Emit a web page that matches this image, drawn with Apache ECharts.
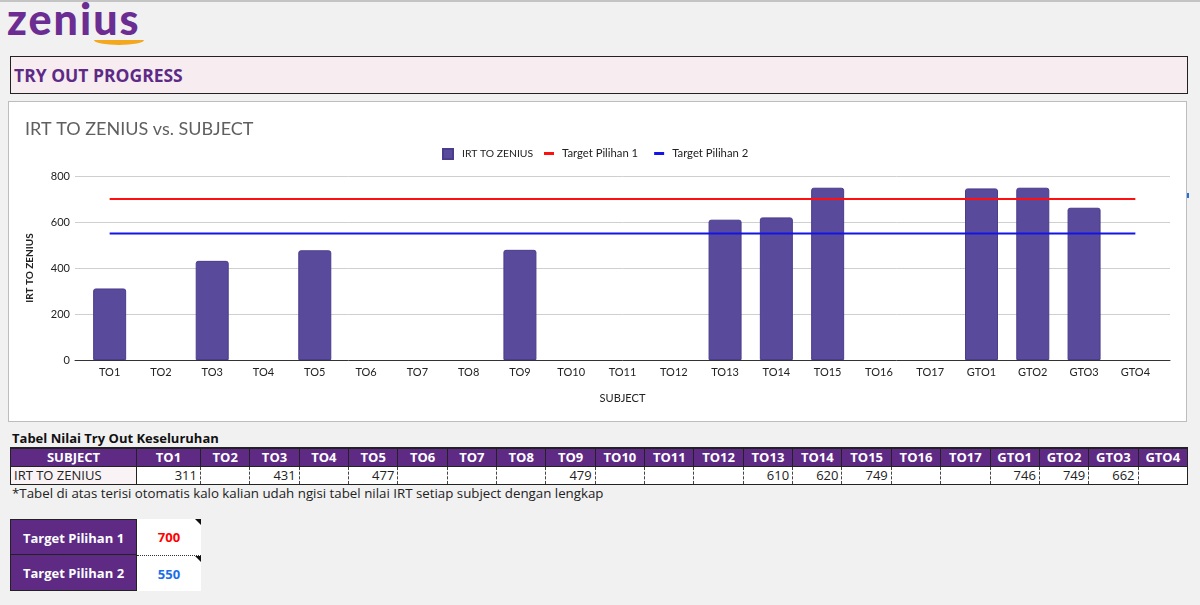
<!DOCTYPE html>
<html>
<head>
<meta charset="utf-8">
<script src="https://cdn.jsdelivr.net/npm/echarts@6/dist/echarts.min.js"></script>
<style>
  html, body { margin: 0; padding: 0; }
  body {
    width: 1200px; height: 605px; position: relative; overflow: hidden;
    background: #f1f1f1; font-family: "Open Sans", sans-serif;
    border-top: 2px solid #c4c4c4; box-sizing: border-box;
  }
  .logo {
    position: absolute; left: 7px; top: -9px;
    font-family: Lato, sans-serif; font-weight: 900; font-size: 43px;
    color: #6b2d92; letter-spacing: 2px;
  }
  .swoosh {
    position: absolute; left: 94px; top: 38px; width: 50px; height: 5px;
    background: #f4a81d; border-radius: 0 0 50% 50% / 0 0 100% 100%;
  }
  .header {
    position: absolute; left: 10px; top: 54px; width: 1173px; height: 36px;
    border: 1px solid #222; background: #f7edf1;
    font-weight: 700; font-size: 17.5px; color: #5d2a86;
    line-height: 36px; padding-left: 3px;
  }
  .chartbox {
    position: absolute; left: 8px; top: 99px; width: 1177px; height: 319px;
    border: 1px solid #bdbdbd; background: #fff;
  }
  #chart { width: 1177px; height: 319px; }
  .mark { position: absolute; left: 1187px; top: 191px; width: 2px; height: 5px; background: #2a6fd6; }
  .ttitle { position: absolute; left: 12px; top: 427px; font-weight: 700; font-size: 13px; color: #111; }
  table.scores {
    position: absolute; left: 10px; top: 445px; border-collapse: collapse;
    font-size: 13px; table-layout: fixed; width: 1178px;
  }
  table.scores td { height: 18px; padding: 0 3px; white-space: nowrap; line-height: 16px; box-sizing: border-box; overflow: hidden; }
  table.scores tr.head td {
    background: #5e2a84; color: #fff; font-weight: 700; text-align: center;
    border: 1px solid #222; border-top: 2px solid #222;
  }
  table.scores tr.vals td {
    background: #fff; color: #222; text-align: right;
    border-left: 1px dashed #444; border-bottom: 1px solid #222;
  }
  table.scores tr.vals td.lbl { text-align: left; background: #faf3f6; border-left: 1px solid #222; border-right: 1px solid #222; }
  table.scores tr.vals td:last-child { border-right: 1px solid #222; }
  .note { position: absolute; left: 12px; top: 482px; font-size: 13.3px; color: #222; }
  .targets { position: absolute; left: 10px; top: 517px; }
  .trow { display: flex; height: 36px; }
  .tlbl {
    width: 125px; background: #5e2a84; color: #fff; font-weight: 700; font-size: 13px;
    text-align: center; line-height: 36px; border-left: 1px solid #222; border-bottom: 1px solid #222; border-right: 1px solid #222;
  }
  .tval {
    width: 64px; background: #fff; font-weight: 700; font-size: 13px;
    text-align: center; line-height: 36px; position: relative;
  }
  .tval::after {
    content: ""; position: absolute; right: 0; top: 0;
    border-left: 6px solid transparent; border-top: 6px solid #111;
  }
  .trow + .trow .tval { border-top: 1px dotted #333; }
</style>
</head>
<body>
<div class="logo">zenius</div>
<div class="swoosh"></div>
<div class="header">TRY OUT PROGRESS</div>
<div class="chartbox"><div id="chart"></div></div>
<div class="mark"></div>
<div class="ttitle">Tabel Nilai Try Out Keseluruhan</div>
<table class="scores" id="scores"></table>
<div class="note">*Tabel di atas terisi otomatis kalo kalian udah ngisi tabel nilai IRT setiap subject dengan lengkap</div>
<div class="targets" id="targets"></div>
<script>
// data
const subjects = ['TO1', 'TO2', 'TO3', 'TO4', 'TO5', 'TO6', 'TO7', 'TO8', 'TO9', 'TO10', 'TO11', 'TO12',
  'TO13', 'TO14', 'TO15', 'TO16', 'TO17', 'GTO1', 'GTO2', 'GTO3', 'GTO4'];
const irtScores = [311, null, 431, null, 477, null, null, null, 479, null, null, null,
  610, 620, 749, null, null, 746, 749, 662, null];
const target1 = 700;
const target2 = 550;
const seriesName = 'IRT TO ZENIUS';

// table
let head = '<tr class="head"><td style="width:126px">SUBJECT</td>';
let vals = '<tr class="vals"><td class="lbl">' + seriesName + '</td>';
subjects.forEach(function (s, i) {
  head += '<td' + (i === 0 ? ' style="width:64px"' : '') + '>' + s + '</td>';
  vals += '<td>' + (irtScores[i] == null ? '' : irtScores[i]) + '</td>';
});
document.getElementById('scores').innerHTML = head + '</tr>' + vals + '</tr>';

document.getElementById('targets').innerHTML =
  '<div class="trow"><div class="tlbl" style="border-top:1px solid #222">Target Pilihan 1</div>' +
  '<div class="tval" style="color:#ff0000">' + target1 + '</div></div>' +
  '<div class="trow"><div class="tlbl">Target Pilihan 2</div>' +
  '<div class="tval" style="color:#1a6fe8">' + target2 + '</div></div>';

// chart
let myChart = echarts.init(document.getElementById('chart'));
let first = subjects[0], last = subjects[subjects.length - 1];
let txt = { fontFamily: 'Lato', color: '#222', fontSize: 11 };

let option = {
  animation: false,
  title: {
    text: 'IRT TO ZENIUS vs. SUBJECT',
    left: 11, top: 13,
    textStyle: { fontFamily: 'Lato', fontWeight: 'normal', fontSize: 18, color: '#5f5f5f' }
  },
  legend: [
    {
      top: 41, left: 428, itemWidth: 10, itemHeight: 10,
      textStyle: { fontFamily: 'Lato', color: '#222', fontSize: 10.4, padding: [0, 0, 0, 4] },
      data: [{ name: seriesName, icon: 'rect' }]
    },
    {
      top: 41, left: 530, itemWidth: 10, itemHeight: 3, itemGap: 16,
      textStyle: { fontFamily: 'Lato', color: '#222', fontSize: 11.3, padding: [0, 0, 0, 3] },
      data: [{ name: 'Target Pilihan 1', icon: 'rect' }, { name: 'Target Pilihan 2', icon: 'rect' }]
    }
  ],
  grid: [
    { left: 75, right: 25, top: 74, bottom: 61 },
    { left: 66, right: 16, top: 74, bottom: 61 }
  ],
  xAxis: [
    {
      type: 'category',
      data: subjects,
      name: 'SUBJECT', nameLocation: 'middle', nameGap: 33,
      nameTextStyle: txt,
      axisTick: { show: false },
      axisLine: { show: false },
      axisLabel: Object.assign({ margin: 7, interval: 0 }, txt)
    },
    {
      gridIndex: 1, type: 'value', min: 0, max: 1,
      axisLabel: { show: false }, axisTick: { show: false }, splitLine: { show: false },
      axisLine: { lineStyle: { color: '#333' } }
    }
  ],
  yAxis: [
    {
      type: 'value', min: 0, max: 800, interval: 200,
      name: 'IRT TO ZENIUS', nameLocation: 'middle', nameGap: 49,
      nameTextStyle: { fontFamily: 'Lato', color: '#222', fontSize: 10, fontWeight: 'bold' },
      axisLabel: Object.assign({ margin: 14 }, txt),
      splitLine: { show: false }
    },
    {
      gridIndex: 1, type: 'value', min: 0, max: 800, interval: 200,
      axisLabel: { show: false }, axisLine: { show: false }, axisTick: { show: false },
      splitLine: { lineStyle: { color: '#cfcfcf' } }
    }
  ],
  series: [
    {
      name: seriesName, type: 'bar', data: irtScores,
      barWidth: 33, z: 3,
      itemStyle: { color: '#5a4a9b', borderColor: '#4b3c8c', borderWidth: 1, borderRadius: [2, 2, 0, 0] }
    },
    {
      name: 'Target Pilihan 1', type: 'line', symbol: 'none', z: 4,
      data: [[first, target1], [last, target1]],
      lineStyle: { color: '#ff1010', width: 2 }, itemStyle: { color: '#ff1010' }
    },
    {
      name: 'Target Pilihan 2', type: 'line', symbol: 'none', z: 4,
      data: [[first, target2], [last, target2]],
      lineStyle: { color: '#1414e6', width: 2 }, itemStyle: { color: '#1414e6' }
    }
  ]
};
myChart.setOption(option);
</script>
</body>
</html>
